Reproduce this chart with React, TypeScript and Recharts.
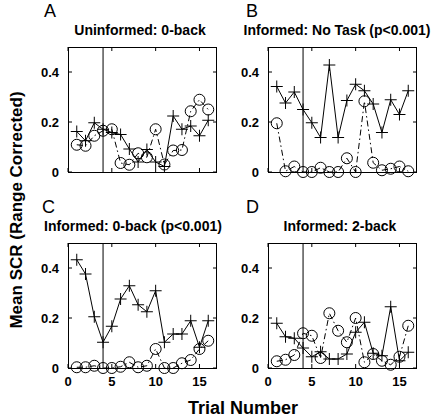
import React from "react";
import { LineChart, Line, XAxis, YAxis, ReferenceLine } from "recharts";

const trials = [1, 2, 3, 4, 5, 6, 7, 8, 9, 10, 11, 12, 13, 14, 15, 16];
const xTicks = [0, 5, 10, 15];
const yTicks = [0, 0.2, 0.4];

const aPlus = [0.162, 0.125, 0.197, 0.171, 0.158, 0.15, 0.092, 0.04, 0.09, 0.04, 0.022, 0.224, 0.171, 0.184, 0.145, 0.207];
const aCirc = [0.109, 0.105, 0.145, 0.165, 0.171, 0.036, 0.029, 0.075, 0.059, 0.171, 0.03, 0.086, 0.088, 0.243, 0.289, 0.25];
const bPlus = [0.342, 0.276, 0.32, 0.25, 0.197, 0.138, 0.428, 0.138, 0.286, 0.351, 0.325, 0.272, 0.158, 0.289, 0.23, 0.325];
const bCirc = [0.195, 0.003, 0.022, 0, 0, 0.017, 0, 0, 0.055, 0, 0.283, 0.037, 0.007, 0.013, 0.022, 0.003];
const cPlus = [0.433, 0.376, 0.205, 0.103, 0.167, 0.276, 0.329, 0.253, 0.225, 0.309, 0.103, 0.136, 0.136, 0.189, 0.083, 0.189];
const cCirc = [0.003, 0.003, 0.009, 0, 0, 0.005, 0.023, 0.003, 0.009, 0.076, 0, 0, 0.019, 0.032, 0.076, 0.109];
const dPlus = [0.179, 0.125, 0.119, 0.08, 0.045, 0.065, 0.036, 0.036, 0.056, 0.143, 0.183, 0.059, 0.049, 0.245, 0.029, 0.063];
const dCirc = [0.027, 0.033, 0.052, 0.139, 0.129, 0.04, 0.219, 0.149, 0.103, 0.2, 0.023, 0.056, 0.029, 0.013, 0.045, 0.169];

const FONT = "'Liberation Sans', Arial, sans-serif";
const PLOT_W = 149;
const PLOT_H = 125;
const TICK_GAP = 8;
// chart placement: [left, top] of each 200x160 panel
const PANELS: [number, number][] = [[30, 40], [230, 40], [30, 236], [230, 236]];

const renderPlus = (p: any) => {
  const { cx, cy, index } = p;
  if (cx == null || cy == null) return <g key={`p${index}`} />;
  return (
    <path
      key={`p${index}`}
      d={`M${cx - 6},${cy}H${cx + 6}M${cx},${cy - 6}V${cy + 6}`}
      stroke="#000"
      strokeWidth={1}
      fill="none"
    />
  );
};

// inward MATLAB-style ticks on both bottom and top edges
const makeXTick = (showLabel: boolean) => (p: any) => {
  const { x, y, payload } = p;
  const ay = y - TICK_GAP;
  const ty = ay - PLOT_H;
  return (
    <g>
      <line x1={x} y1={ay} x2={x} y2={ay - 4} stroke="#000" />
      <line x1={x} y1={ty} x2={x} y2={ty + 4} stroke="#000" />
      {showLabel && (
        <text x={x} y={y} dy="0.75em" textAnchor="middle" fontSize={13} fontWeight={700} fontFamily={FONT} fill="#000">
          {payload.value}
        </text>
      )}
    </g>
  );
};

const yTick = (p: any) => {
  const { x, y, payload } = p;
  const ax = x + TICK_GAP;
  const rx = ax + PLOT_W;
  return (
    <g>
      <line x1={ax} y1={y} x2={ax + 4} y2={y} stroke="#000" />
      <line x1={rx} y1={y} x2={rx - 4} y2={y} stroke="#000" />
      <text x={x - 1} y={y} dy="0.36em" textAnchor="end" fontSize={13} fontWeight={700} fontFamily={FONT} fill="#000">
        {payload.value === 0 ? "0" : payload.value.toFixed(1)}
      </text>
    </g>
  );
};

function Panel({ plus, circ, showX }: { plus: number[]; circ: number[]; showX: boolean }) {
  const data = trials.map((t, i) => ({ t, plus: plus[i], circ: circ[i] }));
  return (
    <LineChart width={200} height={160} data={data} margin={{ top: 7, right: 13, left: 8, bottom: 8 }}>
      <XAxis
        dataKey="t"
        type="number"
        domain={[0, 17]}
        ticks={xTicks}
        axisLine={false}
        tickLine={false}
        tickSize={0}
        tickMargin={TICK_GAP}
        height={20}
        tick={makeXTick(showX)}
        interval={0}
      />
      <YAxis
        type="number"
        domain={[0, 0.5]}
        ticks={yTicks}
        axisLine={false}
        tickLine={false}
        tickSize={0}
        tickMargin={TICK_GAP}
        width={30}
        tick={yTick}
        interval={0}
      />
      <ReferenceLine x={4} stroke="#000" strokeWidth={1} />
      <Line
        dataKey="circ"
        stroke="#000"
        strokeWidth={1}
        strokeDasharray="6 3 1.5 3"
        dot={{ r: 5.5, fill: "none", stroke: "#000", strokeWidth: 1, strokeDasharray: "" }}
        isAnimationActive={false}
      />
      <Line dataKey="plus" stroke="#000" strokeWidth={1} dot={renderPlus} isAnimationActive={false} />
    </LineChart>
  );
}

export default function App() {
  const title = { fontFamily: FONT, fontSize: 14, fontWeight: 700, fill: "#000" } as const;
  const letter = { fontFamily: FONT, fontSize: 18, fill: "#000" } as const;
  const series = [
    [aPlus, aCirc],
    [bPlus, bCirc],
    [cPlus, cCirc],
    [dPlus, dCirc],
  ];
  return (
    <div style={{ position: "absolute", left: 0, top: 0, width: 439, height: 420, background: "#fff" }}>
      {PANELS.map(([l, t], i) => (
        <div key={i} style={{ position: "absolute", left: l, top: t }}>
          <Panel plus={series[i][0]} circ={series[i][1]} showX={i >= 2} />
        </div>
      ))}
      {/* axes boxes as plain bordered divs over the plot areas */}
      {PANELS.map(([l, t], i) => (
        <div
          key={`box${i}`}
          style={{
            position: "absolute",
            left: l + 38,
            top: t + 7,
            width: PLOT_W,
            height: PLOT_H + 1,
            border: "1px solid #000",
            boxSizing: "border-box",
            pointerEvents: "none",
          }}
        />
      ))}
      <svg width={439} height={420} style={{ position: "absolute", left: 0, top: 0, pointerEvents: "none" }}>
        <text x={44} y={17} style={letter}>A</text>
        <text x={140} y={35} textAnchor="middle" style={title}>Uninformed: 0-back</text>
        <text x={246} y={17} style={letter}>B</text>
        <text x={337} y={35} textAnchor="middle" style={title}>Informed: No Task (p&lt;0.001)</text>
        <text x={42} y={213} style={letter}>C</text>
        <text x={133} y={231} textAnchor="middle" style={title}>Informed: 0-back (p&lt;0.001)</text>
        <text x={246} y={213} style={letter}>D</text>
        <text x={340} y={231} textAnchor="middle" style={title}>Informed: 2-back</text>
        <text x={243} y={414} textAnchor="middle" style={{ ...title, fontSize: 18 }}>Trial Number</text>
        <text
          x={0}
          y={0}
          transform="translate(22,210) rotate(-90)"
          textAnchor="middle"
          style={{ ...title, fontSize: 17 }}
        >
          Mean SCR (Range Corrected)
        </text>
      </svg>
    </div>
  );
}
